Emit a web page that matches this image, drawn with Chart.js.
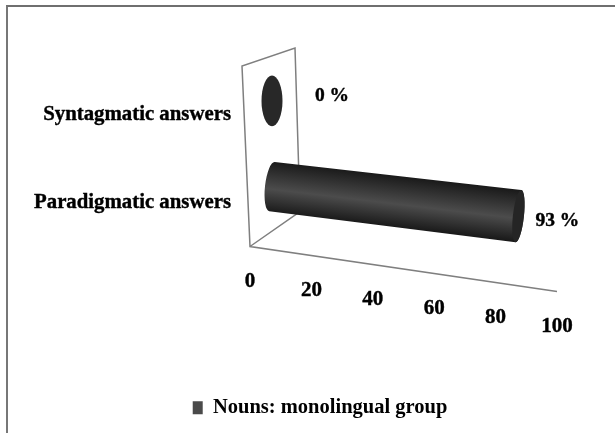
<!DOCTYPE html>
<html>
<head>
<meta charset="utf-8">
<style>
  html, body { margin: 0; padding: 0; background: #fff; }
  #wrap { position: relative; width: 615px; height: 433px; overflow: hidden; }
  #chart { filter: blur(0.4px); }
  #frame { position: absolute; left: 6px; top: 5px; right: 0; bottom: 0; border-left: 2px solid #777; border-top: 2px solid #6f6f6f; pointer-events: none; }
</style>
<script src="https://cdn.jsdelivr.net/npm/chart.js@4"></script>
</head>
<body>
<div id="wrap">
  <canvas id="chart" width="615" height="433"></canvas>
  <div id="frame"></div>
</div>
<script>
/* data */
const categories = ['Syntagmatic answers', 'Paradigmatic answers'];
const seriesName = 'Nouns: monolingual group';
const seriesValues = [0, 93];
const valueTicks = [0, 20, 40, 60, 80, 100];

const FONT = '"Liberation Serif", "Times New Roman", serif';
const LINE = '#7f7f7f';

/* fake 3D: the floor line runs downhill, bars sit one step deeper in the box */
const FLOOR_SLOPE = 0.1466;
const toBar = (px, py, left) => [
  272 + (px - left) * 0.863,
  101 + (py - 115) * 0.977 + (px - left) * 0.1033
];

class CylinderBar extends Chart.BarElement {
  draw(ctx) {
    const {x, y, base, height} = this.getProps(['x', 'y', 'base', 'height']);
    const ry = height / 2 * 0.977;
    const [x0, y0] = toBar(base, y, base);
    ctx.save();
    if (Math.abs(x - base) < 1) {
      ctx.fillStyle = '#282828';
      ctx.beginPath();
      ctx.ellipse(x0, y0, 10.5, ry, 0, 0, Math.PI * 2);
      ctx.fill();
    } else {
      const [x1, y1] = toBar(x, y, base);
      const tilt = 0.11;
      const mx = (x0 + x1) / 2, my = (y0 + y1) / 2;
      const g = ctx.createLinearGradient(mx + ry * 0.119, my - ry, mx - ry * 0.119, my + ry);
      g.addColorStop(0, '#1a1a1a');
      g.addColorStop(0.55, '#4c4c4c');
      g.addColorStop(1, '#1a1a1a');
      ctx.fillStyle = g;
      ctx.beginPath();
      ctx.ellipse(x0, y0, 7, ry * 0.98, tilt, -Math.PI / 2, Math.PI / 2, true);
      ctx.ellipse(x1, y1, 5.5, ry * 1.04, tilt, Math.PI / 2, -Math.PI / 2, true);
      ctx.closePath();
      ctx.fill();
      ctx.fillStyle = '#252525';
      ctx.beginPath();
      ctx.ellipse(x1, y1, 5.5, ry * 1.04, tilt, 0, Math.PI * 2);
      ctx.fill();
    }
    ctx.restore();
  }
}
CylinderBar.id = 'cylinderBar';
CylinderBar.defaults = Chart.BarElement.defaults;
CylinderBar.defaultRoutes = Chart.BarElement.defaultRoutes;

class CylinderController extends Chart.BarController {}
CylinderController.id = 'cylinder';
CylinderController.defaults = {...Chart.BarController.defaults, dataElementType: 'cylinderBar'};
CylinderController.overrides = Chart.BarController.overrides;
Chart.register(CylinderBar, CylinderController);

/* box walls and floor, under the bars */
const boxPlugin = {
  id: 'box',
  /* legend sits centred under the plot, not under the whole canvas */
  afterLayout(chart) {
    chart.legend.left += 29;
    chart.legend.right += 29;
  },
  beforeDatasetsDraw(chart) {
    const {ctx, scales: {x, y}} = chart;
    const left = x.getPixelForValue(0), right = x.getPixelForValue(100), bottom = y.bottom;
    ctx.save();
    ctx.strokeStyle = LINE;
    ctx.lineWidth = 1.5;
    ctx.beginPath();
    ctx.moveTo(right, bottom + (right - left) * FLOOR_SLOPE);
    ctx.lineTo(left, bottom);
    ctx.lineTo(left - 8, y.top - 5);
    ctx.lineTo(left + 45, y.top - 23);
    ctx.lineTo(left + 50, bottom - 35);
    ctx.lineTo(left, bottom);
    ctx.stroke();
    ctx.restore();
  },
  /* value ticks follow the floor line, data labels sit past the bar ends */
  afterDatasetsDraw(chart) {
    const {ctx, scales: {x, y}} = chart;
    const left = x.getPixelForValue(0);
    const put = (s, px, py) => { ctx.strokeText(s, px, py); ctx.fillText(s, px, py); };
    ctx.save();
    ctx.fillStyle = '#000';
    ctx.strokeStyle = '#000';
    ctx.lineWidth = 0.4;
    ctx.textAlign = 'center';
    ctx.textBaseline = 'middle';
    ctx.font = 'bold 21px ' + FONT;
    valueTicks.forEach(v => {
      const px = x.getPixelForValue(v);
      put(String(v), px, y.bottom + 35 + (px - left) * FLOOR_SLOPE);
    });
    ctx.font = 'bold 19.5px ' + FONT;
    seriesValues.forEach((v, i) => {
      const [bx, by] = toBar(x.getPixelForValue(v), y.getPixelForValue(i), left);
      put(v + ' %', v ? bx + 39 : bx + 60, by + (v ? 5 : -5));
    });
    ctx.restore();
  }
};

new Chart(document.getElementById('chart'), {
  type: 'cylinder',
  data: {
    labels: categories,
    datasets: [{
      label: seriesName,
      data: seriesValues,
      backgroundColor: '#4a4a4a',
      barPercentage: 0.59,
      categoryPercentage: 1
    }]
  },
  options: {
    indexAxis: 'y',
    responsive: false,
    animation: false,
    layout: { padding: { top: 71, left: 25, right: 58, bottom: 5 } },
    plugins: {
      tooltip: { enabled: false },
      legend: {
        position: 'bottom',
        labels: {
          boxWidth: 10, boxHeight: 13, padding: 4, color: '#000',
          font: { family: FONT, weight: 'bold', size: 20.5 }
        }
      }
    },
    scales: {
      x: {
        min: 0, max: 100,
        ticks: { display: false, stepSize: 20 },
        grid: { display: false },
        border: { display: false },
        afterFit: s => { s.height = 147; }
      },
      y: {
        ticks: {
          color: '#000', padding: 19, textStrokeColor: '#000', textStrokeWidth: 0.4,
          font: { family: FONT, weight: 'bold', size: 20.8 }
        },
        grid: { display: false, drawTicks: false },
        border: { display: false },
        afterFit: s => { s.width = 225; }
      }
    }
  },
  plugins: [boxPlugin]
});
</script>
</body>
</html>
